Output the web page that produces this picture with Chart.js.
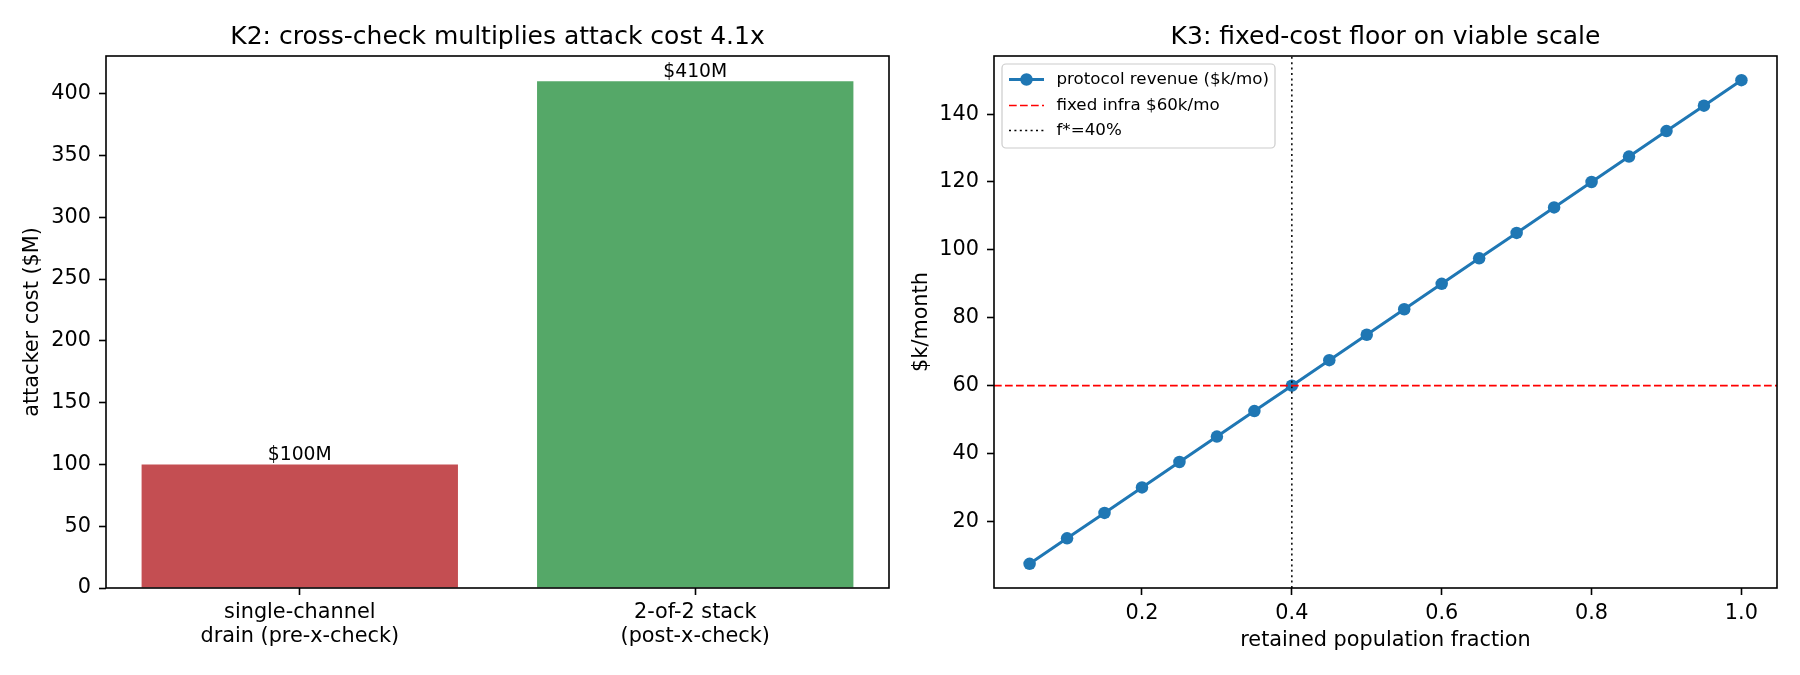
<!DOCTYPE html>
<html><head><meta charset="utf-8">
<script src="https://cdn.jsdelivr.net/npm/chart.js@4/dist/chart.umd.min.js"></script>
<style>
html,body{margin:0;padding:0;background:#fff;width:1800px;height:675px;overflow:hidden}
#c1{position:absolute;left:0;top:0}
#c2{position:absolute;left:900px;top:0}
</style></head><body>
<canvas id="c1" width="900" height="675"></canvas>
<canvas id="c2" width="900" height="675"></canvas>
<script>
// ---- data: left panel (K2) ----
const barCategories = [["single-channel", "drain (pre-x-check)"], ["2-of-2 stack", "(post-x-check)"]];
const attackCostM = [100, 410];
const barValueLabels = ["$100M", "$410M"];
const barColors = ["#c44e52", "#55a868"];
const costTicks = [0, 50, 100, 150, 200, 250, 300, 350, 400];

// ---- data: right panel (K3) ----
const retainedFraction = [0.05, 0.10, 0.15, 0.20, 0.25, 0.30, 0.35, 0.40, 0.45, 0.50,
                          0.55, 0.60, 0.65, 0.70, 0.75, 0.80, 0.85, 0.90, 0.95, 1.00];
const protocolRevenue = [7.5, 15, 22.5, 30, 37.5, 45, 52.5, 60, 67.5, 75,
                         82.5, 90, 97.5, 105, 112.5, 120, 127.5, 135, 142.5, 150];
const fixedInfraK = 60;
const breakEvenFraction = 0.4;
const fractionTicks = [0.2, 0.4, 0.6, 0.8, 1.0];
const revenueTicks = [20, 40, 60, 80, 100, 120, 140];
const legendLabels = ["protocol revenue ($k/mo)", "fixed infra $60k/mo", "f*=40%"];

const FONT = "'DejaVu Sans', sans-serif";
Chart.defaults.font.family = FONT;
Chart.defaults.color = '#000';

const TICK = 20.8, TITLE = 25;

function tickGrid() {
  return {display: true, drawOnChartArea: false, drawTicks: true, tickLength: 7,
          tickWidth: 1.6, tickColor: '#000', offset: false};
}

function framePlugin(title) {
  return {
    id: 'frame_' + title.length,
    afterDraw(chart) {
      const {ctx, chartArea: a} = chart;
      ctx.save();
      ctx.strokeStyle = '#000';
      ctx.lineWidth = 1.6;
      ctx.strokeRect(a.left, a.top, a.right - a.left, a.bottom - a.top);
      ctx.fillStyle = '#000';
      ctx.font = TITLE + 'px ' + FONT;
      ctx.textAlign = 'center';
      ctx.textBaseline = 'alphabetic';
      ctx.fillText(title, (a.left + a.right) / 2, 43.5);
      ctx.restore();
    }
  };
}

// ---------- left chart ----------
const BAR_W = 0.8;
const barIdx = attackCostM.map((v, i) => i);
const barSpan = (barIdx.length - 1) + BAR_W;
const bxLo = -BAR_W / 2 - 0.05 * barSpan, bxHi = (barIdx.length - 1) + BAR_W / 2 + 0.05 * barSpan;
const costMax = Math.max(...attackCostM) * 1.05;
new Chart(document.getElementById('c1'), {
  type: 'bar',
  data: {
    datasets: [{data: attackCostM.map((v, i) => ({x: barIdx[i], y: v})),
                backgroundColor: barColors, borderWidth: 0,
                barPercentage: BAR_W, categoryPercentage: 1.0}]
  },
  options: {
    responsive: false, animation: false, devicePixelRatio: 1,
    layout: {padding: {top: 56, right: 11, bottom: 0, left: 0}},
    plugins: {legend: {display: false}, tooltip: {enabled: false}},
    scales: {
      x: {
        type: 'linear', min: bxLo, max: bxHi, offset: false,
        grid: tickGrid(), border: {display: false},
        ticks: {font: {size: TICK, lineHeight: 1.15}, color: '#000', padding: 6,
                maxRotation: 0, autoSkip: false,
                callback: v => barCategories[Math.round(v)]},
        afterBuildTicks: s => { s.ticks = barIdx.map(v => ({value: v})); },
        afterFit: s => { s.height = 87; }
      },
      y: {
        min: 0, max: costMax,
        grid: tickGrid(), border: {display: false},
        ticks: {font: {size: TICK}, color: '#000', padding: 8},
        afterBuildTicks: s => { s.ticks = costTicks.map(v => ({value: v})); },
        afterFit: s => { s.width = 106; },
        title: {display: true, text: 'attacker cost ($M)', font: {size: TICK},
                color: '#000', padding: {top: 20, bottom: 0}}
      }
    }
  },
  plugins: [framePlugin('K2: cross-check multiplies attack cost 4.1x'), {
    id: 'barLabels',
    afterDatasetsDraw(chart) {
      const ctx = chart.ctx;
      const meta = chart.getDatasetMeta(0);
      ctx.save();
      ctx.fillStyle = '#000';
      ctx.font = '18.75px ' + FONT;
      ctx.textAlign = 'center';
      ctx.textBaseline = 'bottom';
      meta.data.forEach((bar, i) => ctx.fillText(barValueLabels[i], bar.x, bar.y));
      ctx.restore();
    }
  }]
});

// ---------- right chart ----------
const fMin = Math.min(...retainedFraction), fMax = Math.max(...retainedFraction);
const rMin = Math.min(...protocolRevenue), rMax = Math.max(...protocolRevenue);
const xLo = fMin - 0.05 * (fMax - fMin), xHi = fMax + 0.05 * (fMax - fMin);
const yLo = rMin - 0.05 * (rMax - rMin), yHi = rMax + 0.05 * (rMax - rMin);

new Chart(document.getElementById('c2'), {
  type: 'line',
  data: {
    datasets: [
      {label: legendLabels[0], data: retainedFraction.map((f, i) => ({x: f, y: protocolRevenue[i]})),
       borderColor: '#1f77b4', backgroundColor: '#1f77b4', borderWidth: 3, tension: 0,
       pointRadius: 6.25, pointBorderWidth: 0, pointBackgroundColor: '#1f77b4', order: 3},
      {label: legendLabels[1], data: [{x: xLo, y: fixedInfraK}, {x: xHi, y: fixedInfraK}],
       borderColor: '#ff0000', borderWidth: 1.6, borderDash: [7.7, 3.3], pointRadius: 0, order: 1},
      {label: legendLabels[2], data: [{x: breakEvenFraction, y: yLo}, {x: breakEvenFraction, y: yHi}],
       borderColor: '#000', borderWidth: 1.5, borderDash: [2, 3.4], pointRadius: 0, order: 2}
    ]
  },
  options: {
    responsive: false, animation: false, devicePixelRatio: 1,
    layout: {padding: {top: 56, right: 23, bottom: 0, left: 0}},
    plugins: {legend: {display: false}, tooltip: {enabled: false}},
    scales: {
      x: {
        type: 'linear', min: xLo, max: xHi,
        grid: tickGrid(), border: {display: false},
        ticks: {font: {size: TICK}, color: '#000', padding: 6, maxRotation: 0,
                callback: v => v.toFixed(1)},
        afterBuildTicks: s => { s.ticks = fractionTicks.map(v => ({value: v})); },
        afterFit: s => { s.height = 87; },
        title: {display: true, text: 'retained population fraction', font: {size: TICK},
                color: '#000', padding: {top: 0, bottom: 22}}
      },
      y: {
        type: 'linear', min: yLo, max: yHi,
        grid: tickGrid(), border: {display: false},
        ticks: {font: {size: TICK}, color: '#000', padding: 8, callback: v => String(v)},
        afterBuildTicks: s => { s.ticks = revenueTicks.map(v => ({value: v})); },
        afterFit: s => { s.width = 94; },
        title: {display: true, text: '$k/month', font: {size: TICK},
                color: '#000', padding: {top: 9, bottom: 0}}
      }
    }
  },
  plugins: [framePlugin('K3: fixed-cost floor on viable scale'), {
    id: 'mplLegend',
    afterDraw(chart) {
      const {ctx, chartArea: a} = chart;
      const bx = a.left + 8, by = a.top + 8, bw = 273, bh = 84;
      ctx.save();
      ctx.fillStyle = 'rgba(255,255,255,0.8)';
      ctx.strokeStyle = '#cccccc';
      ctx.lineWidth = 1.2;
      ctx.beginPath();
      ctx.roundRect(bx, by, bw, bh, 4);
      ctx.fill();
      ctx.stroke();
      const rows = [15.5, 41.5, 66.5];
      chart.data.datasets.forEach((ds, i) => {
        const y = by + rows[i];
        ctx.save();
        ctx.strokeStyle = ds.borderColor;
        ctx.lineWidth = ds.borderWidth;
        ctx.setLineDash(ds.borderDash || []);
        ctx.beginPath();
        ctx.moveTo(bx + 7, y);
        ctx.lineTo(bx + 42, y);
        ctx.stroke();
        if (ds.pointRadius > 0) {
          ctx.fillStyle = ds.pointBackgroundColor;
          ctx.beginPath();
          ctx.arc(bx + 24.5, y, ds.pointRadius, 0, Math.PI * 2);
          ctx.fill();
        }
        ctx.restore();
        ctx.fillStyle = '#000';
        ctx.font = '16.7px ' + FONT;
        ctx.textAlign = 'left';
        ctx.textBaseline = 'middle';
        ctx.fillText(ds.label, bx + 54.5, y);
      });
      ctx.restore();
    }
  }]
});
</script>
</body></html>
